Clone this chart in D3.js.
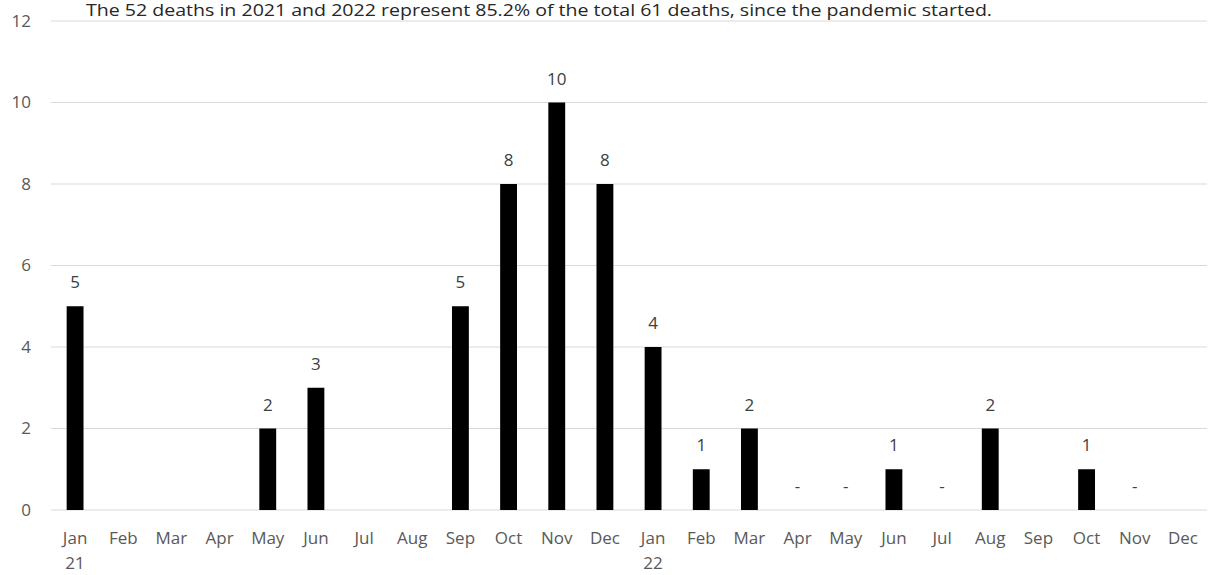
<!DOCTYPE html>
<html>
<head>
<meta charset="utf-8">
<script src="https://cdn.jsdelivr.net/npm/d3@7"></script>
<style>
  body { margin: 0; background: #fff; }
  svg text { font-family: "Open Sans", "Noto Sans", sans-serif; }
</style>
</head>
<body>
<div id="chart"></div>
<script>
// chart size
var width = 1208;
var height = 575;

// data
var months = ["Jan", "Feb", "Mar", "Apr", "May", "Jun", "Jul", "Aug", "Sep", "Oct", "Nov", "Dec",
              "Jan", "Feb", "Mar", "Apr", "May", "Jun", "Jul", "Aug", "Sep", "Oct", "Nov", "Dec"];
var years = ["21", "", "", "", "", "", "", "", "", "", "", "",
             "22", "", "", "", "", "", "", "", "", "", "", ""];
// null = no label, 0 = shown as "-"
var deaths = [5, null, null, null, 2, 3, null, null, 5, 8, 10, 8,
              4, 1, 2, 0, 0, 1, 0, 2, null, 1, 0, null];
var yTicks = [0, 2, 4, 6, 8, 10, 12];
var title = "The 52 deaths in 2021 and 2022 represent 85.2% of the total 61 deaths, since the pandemic started.";

var margin = { top: 21, right: 1, bottom: 65, left: 51 };

var svg = d3.select("#chart").append("svg")
    .attr("width", width)
    .attr("height", height);

var xScale = d3.scaleBand()
    .domain(d3.range(months.length))
    .range([margin.left, width - margin.right])
    .paddingInner(0.65)
    .paddingOuter(0.325);

var yScale = d3.scaleLinear()
    .domain([0, 12])
    .range([height - margin.bottom, margin.top]);

// grid lines
svg.selectAll("line.grid")
    .data(yTicks).enter()
    .append("line")
    .attr("class", "grid")
    .attr("x1", margin.left)
    .attr("x2", width - margin.right)
    .attr("y1", function(d) { return yScale(d); })
    .attr("y2", function(d) { return yScale(d); })
    .attr("stroke", "#d9d9d9")
    .attr("stroke-width", 1.2);

// y tick labels
svg.selectAll("text.ytick")
    .data(yTicks).enter()
    .append("text")
    .attr("class", "ytick")
    .attr("x", 31)
    .attr("y", function(d) { return yScale(d); })
    .attr("dy", "0.35em")
    .attr("text-anchor", "end")
    .attr("font-size", 17)
    .attr("fill", "#595959")
    .text(function(d) { return d; });

// indices of months that have a bar / a label
var barIdx = d3.range(deaths.length).filter(function(i) { return deaths[i] > 0; });
var labelIdx = d3.range(deaths.length).filter(function(i) { return deaths[i] !== null; });

// bars
svg.selectAll("rect.bar")
    .data(barIdx).enter()
    .append("rect")
    .attr("class", "bar")
    .attr("x", function(i) { return xScale(i); })
    .attr("width", xScale.bandwidth())
    .attr("y", function(i) { return yScale(deaths[i]); })
    .attr("height", function(i) { return yScale(0) - yScale(deaths[i]); })
    .attr("fill", "#000");

// value labels
svg.selectAll("text.val")
    .data(labelIdx).enter()
    .append("text")
    .attr("class", "val")
    .attr("x", function(i) { return xScale(i) + xScale.bandwidth() / 2; })
    .attr("y", function(i) { return yScale(deaths[i]) - 18; })
    .attr("text-anchor", "middle")
    .attr("font-size", 17)
    .attr("fill", "#404040")
    .text(function(i) { return deaths[i] === 0 ? "-" : deaths[i]; });

// x labels
var xl = svg.selectAll("g.xlab")
    .data(months).enter()
    .append("g")
    .attr("class", "xlab")
    .attr("transform", function(d, i) {
        return "translate(" + (xScale(i) + xScale.bandwidth() / 2) + ",0)";
    });
xl.append("text")
    .attr("y", yScale(0) + 34)
    .attr("text-anchor", "middle")
    .attr("font-size", 17)
    .attr("fill", "#595959")
    .text(function(d) { return d; });
xl.append("text")
    .attr("y", yScale(0) + 59)
    .attr("text-anchor", "middle")
    .attr("font-size", 17)
    .attr("fill", "#595959")
    .text(function(d, i) { return years[i]; });

// title
svg.append("text")
    .attr("x", 86)
    .attr("y", 16)
    .attr("font-size", 16)
    .attr("fill", "#262626")
    .attr("textLength", 906)
    .attr("lengthAdjust", "spacingAndGlyphs")
    .text(title);
</script>
</body>
</html>
